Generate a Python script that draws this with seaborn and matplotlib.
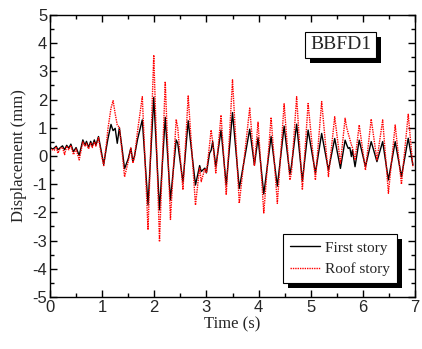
import numpy as np
import pandas as pd
import seaborn as sns
import matplotlib
matplotlib.use('Agg')
import matplotlib.pyplot as plt
from matplotlib.patches import Rectangle
from matplotlib.ticker import MultipleLocator

# values (time in s, displacement in mm)
time = [0.00, 0.05, 0.08, 0.12, 0.15, 0.20, 0.24, 0.28, 0.32, 0.36, 0.40, 0.45,
        0.50, 0.56, 0.63, 0.67, 0.70, 0.74, 0.78, 0.81, 0.85, 0.88, 0.93, 0.98,
        1.03, 1.08, 1.11, 1.17, 1.21, 1.25, 1.29, 1.33, 1.38, 1.43, 1.50, 1.55,
        1.59, 1.62, 1.68, 1.77, 1.88, 1.99, 2.10, 2.21, 2.31, 2.42, 2.45, 2.55,
        2.65, 2.79, 2.87, 2.90, 2.97, 3.00, 3.06, 3.09, 3.12, 3.18, 3.28, 3.38,
        3.50, 3.63, 3.83, 3.92, 3.99, 4.10, 4.24, 4.36, 4.49, 4.60, 4.63, 4.73,
        4.84, 4.95, 5.09, 5.21, 5.34, 5.46, 5.57, 5.66, 5.69, 5.72, 5.75, 5.78,
        5.80, 5.85, 5.93, 6.05, 6.16, 6.27, 6.38, 6.49, 6.62, 6.74, 6.87, 6.96]
first_story = [0.30, 0.25, 0.28, 0.35, 0.22, 0.30, 0.36, 0.22, 0.38, 0.28, 0.42, 0.15,
               0.30, 0.02, 0.57, 0.38, 0.52, 0.30, 0.52, 0.35, 0.57, 0.38, 0.69, 0.20,
               -0.30, 0.28, 0.60, 1.12, 0.90, 0.98, 0.45, 1.00, 0.30, -0.45, -0.10, 0.28,
               -0.20, 0.00, 0.60, 1.28, -1.74, 2.08, -1.91, 1.37, -1.56, 0.57, 0.45, -0.93,
               1.25, -1.03, -0.34, -0.55, -0.43, -0.60, 0.10, 0.20, 0.51, -0.38, 0.92, -1.03,
               1.54, -1.15, 0.95, -0.32, 0.65, -1.35, 0.69, -1.07, 1.06, -0.65, -0.35, 1.13,
               -0.88, 0.92, -0.60, 0.80, -0.50, 0.62, -0.44, 0.56, 0.40, 0.27, 0.30, -0.02,
               0.21, -0.38, 0.56, -0.38, 0.51, -0.20, 0.51, -0.85, 0.51, -0.73, 0.63, -0.32]
roof_story = [0.28, 0.22, 0.20, 0.33, 0.10, 0.28, 0.30, 0.05, 0.35, 0.22, 0.38, 0.05,
              0.25, -0.14, 0.50, 0.35, 0.45, 0.25, 0.48, 0.30, 0.50, 0.35, 0.65, 0.10,
              -0.34, 0.40, 0.95, 1.70, 1.96, 1.50, 1.10, 1.02, 0.20, -0.74, -0.20, 0.28,
              -0.25, -0.05, 0.90, 2.10, -2.62, 3.58, -3.04, 2.64, -2.25, 1.30, 1.00, -1.20,
              2.13, -1.74, -0.40, -0.91, -0.45, -0.60, 0.40, 0.92, 0.50, -0.60, 1.45, -1.38,
              2.70, -1.68, 1.70, -0.35, 1.20, -2.02, 1.37, -1.68, 1.85, -0.85, -0.60, 2.10,
              -1.20, 1.86, -0.85, 1.93, -0.73, 1.39, -0.26, 1.34, 1.00, 0.80, 0.60, 0.40,
              0.30, -0.14, 1.10, -0.50, 1.31, -0.14, 1.28, -1.32, 1.10, -1.00, 1.48, -0.40]

df = pd.DataFrame({'Time': time, 'First story': first_story, 'Roof story': roof_story})

sns.set_style('ticks')
plt.rcParams['font.family'] = ['Liberation Sans', 'DejaVu Sans']
plt.rcParams['axes.unicode_minus'] = False
serif = ['Liberation Serif', 'DejaVu Serif']

fig = plt.figure(figsize=(4.22, 3.49), dpi=100)
ax = fig.add_axes([50/422, 1-297/349, 365/422, 282/349])

sns.lineplot(data=df, x='Time', y='First story', ax=ax, color='black', lw=1.0,
             label='First story')
sns.lineplot(data=df, x='Time', y='Roof story', ax=ax, color='red', lw=1.0,
             linestyle=(0, (1, 0.7)), label='Roof story')

ax.set_xlim(0, 7)
ax.set_ylim(-5, 5)
ax.xaxis.set_major_locator(MultipleLocator(1))
ax.xaxis.set_minor_locator(MultipleLocator(0.5))
ax.yaxis.set_major_locator(MultipleLocator(1))
ax.yaxis.set_minor_locator(MultipleLocator(0.5))
ax.tick_params(which='both', direction='in', top=True, right=True, labelsize=12,
               color='black', width=1.0, pad=2)
ax.tick_params(which='major', length=5)
ax.tick_params(which='minor', length=3)
for sp in ax.spines.values():
    sp.set_linewidth(1.0)
    sp.set_color('black')

ax.set_xlabel('Time (s)', family=serif, fontsize=12, labelpad=1)
ax.set_ylabel('Displacement (mm)', family=serif, fontsize=12, labelpad=4)

# label box
tag = ax.text(0.797, 0.894, 'BBFD1', transform=ax.transAxes, ha='center', va='center',
              fontsize=14, family=serif, zorder=6,
              bbox=dict(boxstyle='square,pad=0.25', fc='white', ec='black', lw=0.8))

leg = ax.legend(loc='lower left', bbox_to_anchor=(0.638, 0.05), borderaxespad=0,
                frameon=True, fancybox=False, framealpha=1, edgecolor='black',
                prop={'family': serif, 'size': 11}, handlelength=2.0,
                handletextpad=0.3, labelspacing=0.5, borderpad=0.45)
leg.get_frame().set_linewidth(0.8)

# black drop shadows behind both boxes, in pixel coordinates
fig.canvas.draw()
for bb in [leg.get_window_extent(), tag.get_bbox_patch().get_window_extent()]:
    ax.add_patch(Rectangle((bb.x0 + 5, bb.y0 - 5), bb.width, bb.height, transform=None,
                           fc='black', ec='none', zorder=4.9, clip_on=False))

fig.savefig('out.png', dpi=100)
